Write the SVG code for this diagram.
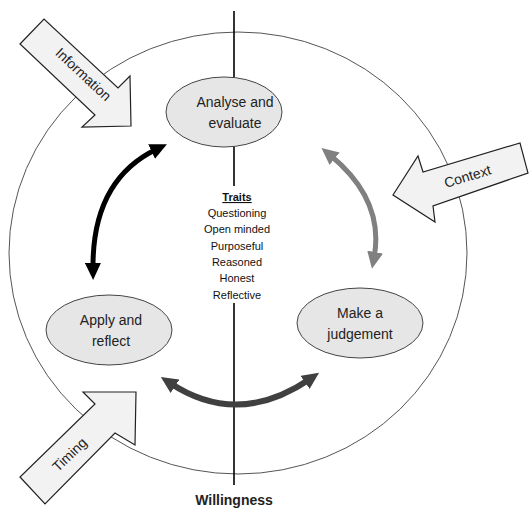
<svg xmlns="http://www.w3.org/2000/svg" width="529" height="508" viewBox="0 0 529 508">
<style>
.node ellipse{fill:#e6e6e6;stroke:#444;stroke-width:1}
.lbl{font-family:"Liberation Sans",Arial,sans-serif;font-size:14px;fill:#222;text-anchor:middle}
.blk{fill:#f2f2f2;stroke:#222;stroke-width:1.2;stroke-linejoin:miter}
.tr{font-family:"Liberation Sans",Arial,sans-serif;font-size:11px;fill:#111;text-anchor:middle}
.conn{fill:none}
</style>
<defs>
<marker id="hb" markerUnits="userSpaceOnUse" markerWidth="18" markerHeight="16" refX="6" refY="8" orient="auto-start-reverse"><path d="M0,0 L17,8 L0,16 z" fill="#000"/></marker>
<marker id="hg" markerUnits="userSpaceOnUse" markerWidth="18" markerHeight="16" refX="6" refY="8" orient="auto-start-reverse"><path d="M0,0 L17,8 L0,16 z" fill="#808080"/></marker>
<marker id="hd" markerUnits="userSpaceOnUse" markerWidth="18" markerHeight="16" refX="6" refY="8" orient="auto-start-reverse"><path d="M0,0 L17,8 L0,16 z" fill="#404040"/></marker>
</defs>
<rect width="529" height="508" fill="#fff"/>
<ellipse cx="238" cy="253" rx="229" ry="221" fill="none" stroke="#555" stroke-width="1"/>
<line x1="234" y1="11" x2="234" y2="485" stroke="#000" stroke-width="1.6"/>
<g id="connectors">
<path class="conn" d="M157,149 Q92,180 93,269" stroke="#000" stroke-width="5" marker-start="url(#hb)" marker-end="url(#hb)"/>
<path class="conn" d="M330,155 Q385,200 374,258" stroke="#808080" stroke-width="5" marker-start="url(#hg)" marker-end="url(#hg)"/>
<path class="conn" d="M170,383 Q238,428 310,379" stroke="#404040" stroke-width="6" marker-start="url(#hd)" marker-end="url(#hd)"/>
</g>
<g id="analyse" class="node">
<ellipse cx="224" cy="112" rx="58" ry="35"/>
<text class="lbl" x="235" y="107">Analyse and</text>
<text class="lbl" x="235" y="128">evaluate</text>
</g>
<g id="judgement" class="node">
<ellipse cx="360" cy="323" rx="63" ry="35"/>
<text class="lbl" x="360" y="318">Make a</text>
<text class="lbl" x="360" y="339">judgement</text>
</g>
<g id="apply" class="node">
<ellipse cx="109" cy="330" rx="63" ry="35"/>
<text class="lbl" x="111" y="325">Apply and</text>
<text class="lbl" x="111" y="346">reflect</text>
</g>
<g id="traits">
<rect x="200" y="186" width="74" height="117" fill="#fff"/>
<text class="tr" x="237" y="201" font-weight="bold" text-decoration="underline">Traits</text>
<text class="tr" x="237" y="217">Questioning</text>
<text class="tr" x="237" y="233">Open minded</text>
<text class="tr" x="237" y="250">Purposeful</text>
<text class="tr" x="237" y="266">Reasoned</text>
<text class="tr" x="237" y="282">Honest</text>
<text class="tr" x="237" y="299">Reflective</text>
</g>
<g id="information">
<polygon class="blk" points="20,44 44,19 118,88 130,76 131,126 82,127 95,115"/>
<text class="lbl" transform="translate(80,78) rotate(43)">Information</text>
</g>
<g id="context">
<polygon class="blk" points="393,195 418,156 423,172 520,143 528,173 433,206 435,222"/>
<text class="lbl" transform="translate(469,181) rotate(-17)">Context</text>
</g>
<g id="timing">
<polygon class="blk" points="20,477 45,504 115,433 135,445 136,392 83,392 95,404"/>
<text class="lbl" transform="translate(73,458) rotate(-44)">Timing</text>
</g>
<g id="willingness">
<text class="lbl" x="234" y="505" font-weight="bold">Willingness</text>
</g>
</svg>
